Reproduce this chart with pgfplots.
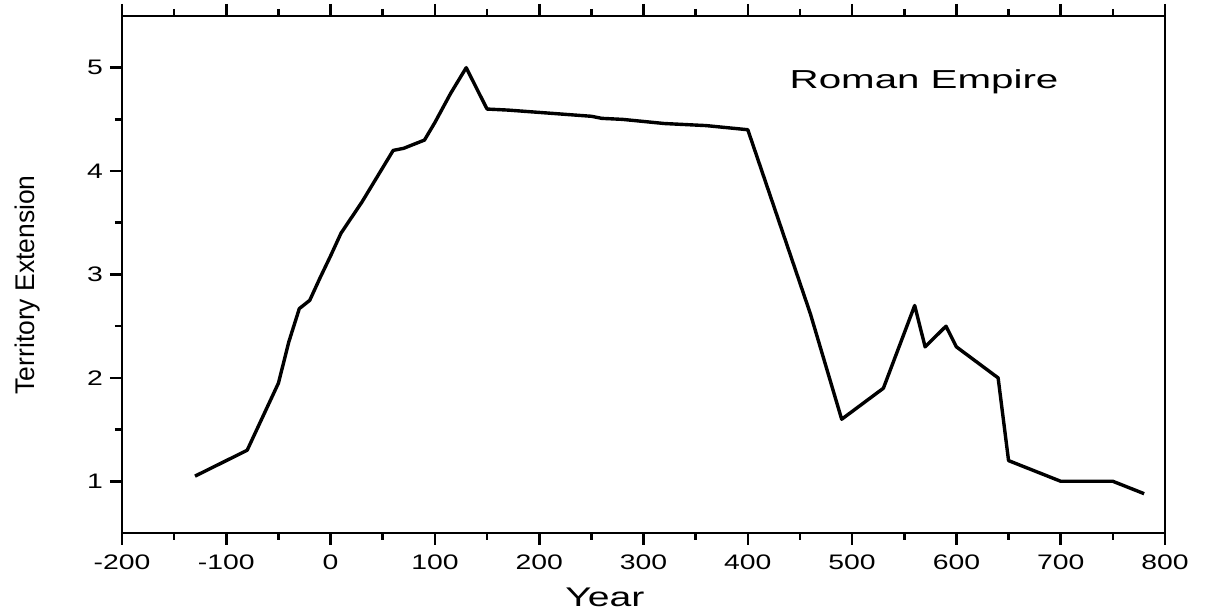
\documentclass[border=0pt]{standalone}
\usepackage{pgfplots}
\pgfplotsset{compat=1.18}
\usepackage{fontspec}
\setmainfont{Liberation Sans}
% wide sans-serif labels
\newcommand\tl[1]{\scalebox{1.35}[1]{#1}}
\begin{document}
\begin{tikzpicture}
\begin{axis}[
  at={(61pt,40pt)}, anchor=south west,
  scale only axis, width=521.5pt, height=258.5pt,
  xmin=-200, xmax=800, ymin=0.5, ymax=5.5,
  xtick={-200,-100,0,100,200,300,400,500,600,700,800},
  xticklabels={\tl{-200},\tl{-100},\tl{0},\tl{100},\tl{200},\tl{300},\tl{400},\tl{500},\tl{600},\tl{700},\tl{800}},
  ytick={1,2,3,4,5},
  yticklabels={\tl{1},\tl{2},\tl{3},\tl{4},\tl{5}},
  minor x tick num=1, minor y tick num=1,
  tick align=outside,
  xtick pos=both, xticklabel pos=lower, ytick pos=left,
  major tick length=6pt, minor tick length=3.5pt,
  every tick/.style={black, line width=1.3pt},
  axis line style={line width=1.4pt},
  tick label style={font=\fontsize{10.5}{12}\selectfont},
  xticklabel style={yshift=-1.5pt},
  yticklabel style={xshift=0pt},
  xlabel={\scalebox{1.45}[1]{Year}},
  xlabel style={font=\fontsize{13.5}{15}\selectfont, at={(axis description cs:0.463,-0.124)}, anchor=center},
  ylabel={\scalebox{0.98}[1]{Territory Extension}},
  ylabel style={font=\fontsize{13.5}{15}\selectfont, at={(axis description cs:-0.091,0.48)}, anchor=center, rotate=0},
  clip=false,
]
\addplot[black, line width=1.7pt, line join=round] coordinates {
  (-130,1.05) (-80,1.30) (-50,1.95) (-40,2.35) (-30,2.67) (-20,2.75)
  (-10,2.97) (0,3.18) (10,3.40) (30,3.70) (60,4.20) (70,4.22) (80,4.26)
  (90,4.30) (100,4.47) (115,4.75) (130,5.00) (150,4.60) (170,4.59)
  (210,4.56) (250,4.53) (260,4.51) (280,4.50) (290,4.49) (320,4.46)
  (360,4.44) (400,4.40) (460,2.62) (490,1.60) (530,1.90) (560,2.70)
  (570,2.30) (590,2.50) (600,2.30) (640,2.00) (650,1.20) (700,1.00)
  (750,1.00) (780,0.88)
};
\node[anchor=base, font=\fontsize{13}{15}\selectfont] at (axis cs:569,4.795)
  {\scalebox{1.55}[1]{Roman Empire}};
\end{axis}
\pgfresetboundingbox
\path[use as bounding box] (0,0) rectangle (605pt,306.5pt);
\end{tikzpicture}
\end{document}
